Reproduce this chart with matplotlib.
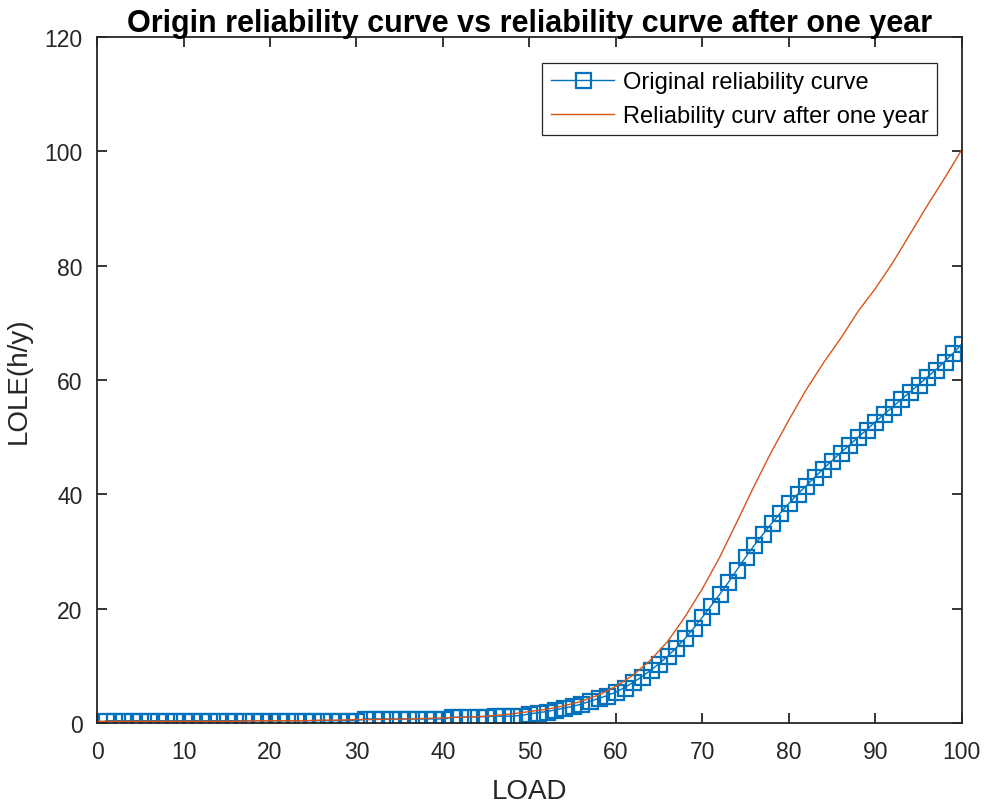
import numpy as np
import matplotlib
matplotlib.use("Agg")
import matplotlib.pyplot as plt

plt.rcParams['font.family'] = ['Liberation Sans', 'DejaVu Sans']

# original reliability curve, load 1..100
load = np.arange(1, 101)
lole_orig = [0.4] * 30 + [0.7] * 10 + [1.0, 1.0, 1.1, 1.1, 1.1, 1.2, 1.2, 1.2, 1.3] + [
    1.6, 1.8, 2.0, 2.3, 2.6, 2.9, 3.3, 3.8, 4.3, 4.8,
    5.4, 6.2, 7.1, 8.1, 9.2, 10.4, 11.7, 13.2, 14.8, 16.6,
    18.5, 20.5, 22.5, 24.6, 26.8, 29.0, 31.1, 33.0, 34.9, 36.7,
    38.4, 40.0, 41.5, 43.0, 44.5, 45.9, 47.3, 48.6, 50.0, 51.3,
    52.7, 54.0, 55.3, 56.6, 57.9, 59.2, 60.5, 61.8, 63.2, 64.7, 66.3]

# reliability curve after one year, load 0..100 step 2
load_year = np.arange(0, 101, 2)
lole_year = [0.3, 0.3, 0.3, 0.3, 0.3, 0.3, 0.3, 0.3, 0.3, 0.4,
             0.4, 0.4, 0.4, 0.5, 0.5, 0.6, 0.6, 0.7, 0.7, 0.8,
             0.9, 1.0, 1.1, 1.3, 1.6, 2.0, 2.4, 3.0, 3.8, 4.9,
             6.4, 8.4, 11.0, 14.3, 18.6, 23.5, 29.0, 35.2, 41.5, 47.5,
             53.0, 58.3, 63.0, 67.3, 72.0, 76.0, 80.5, 85.5, 90.5, 95.3, 100.3]

fig = plt.figure(figsize=(9.85, 8.03), dpi=100)
ax = fig.add_axes([0.0985, 0.0984, 0.878, 0.8543])

ax.plot(load, lole_orig, '-s', color='#0072BD', linewidth=1.0, markersize=10.8,
        markerfacecolor='none', markeredgewidth=1.6, label='Original reliability curve')
ax.plot(load_year, lole_year, '-', color='#D95319', linewidth=1.0,
        label='Reliability curv after one year')

ax.set_xlim(0, 100)
ax.set_ylim(0, 120)
ax.set_xticks(np.arange(0, 101, 10))
ax.set_yticks(np.arange(0, 121, 20))
ax.tick_params(direction='in', top=True, right=True, labelsize=16.5,
               colors='#262626', length=7, width=1.3)
ax.tick_params(axis='x', pad=12)
ax.tick_params(axis='y', pad=10.5)
for s in ax.spines.values():
    s.set_linewidth(1.3)
    s.set_color('#262626')

ax.set_xlabel('LOAD', fontsize=20, color='#262626', labelpad=11)
ax.set_ylabel('LOLE(h/y)', fontsize=20, color='#262626', labelpad=9)
ax.set_title('Origin reliability curve vs reliability curve after one year',
             fontsize=22, fontweight='bold', pad=4)

leg = ax.legend(loc='upper right', bbox_to_anchor=(0.971, 0.962), borderaxespad=0,
                fontsize=17, fancybox=False, edgecolor='#262626', framealpha=1,
                handlelength=2.7, handletextpad=0.35, borderpad=0.35, labelspacing=0.5)
leg.get_frame().set_linewidth(0.9)

fig.savefig('out.png', dpi=100)
